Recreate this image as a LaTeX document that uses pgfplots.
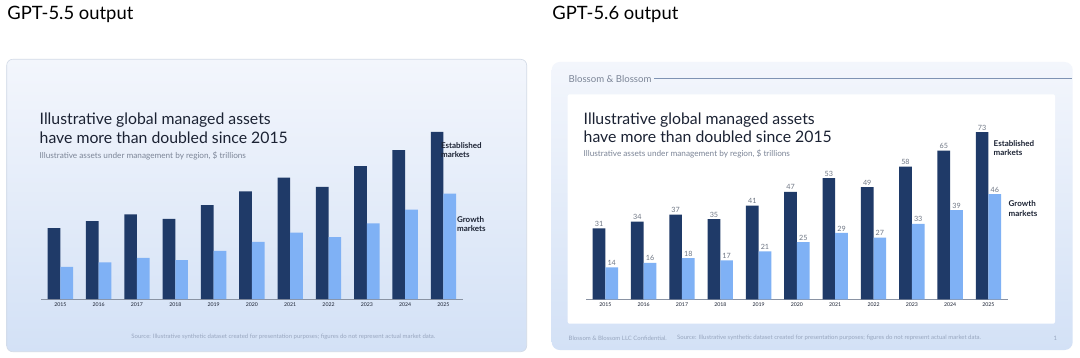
\documentclass[border=0pt]{standalone}
\usepackage{fontspec}
\setmainfont{Lato}
\usepackage{pgfplots}
\usepackage{pgfplotstable}
\pgfplotsset{compat=1.18}

\definecolor{navy}{HTML}{1F3A68}
\definecolor{sky}{HTML}{7FB1F5}
\definecolor{ink}{HTML}{1B2233}
\definecolor{subgrey}{HTML}{7C8597}
\definecolor{valgrey}{HTML}{6E7684}
\definecolor{srcgrey}{HTML}{98A6BF}
\definecolor{cardtop}{HTML}{F3F6FC}
\definecolor{cardbot}{HTML}{D3E1F6}
\definecolor{axisgrey}{HTML}{8A93A3}
\definecolor{hdrline}{HTML}{7F93B3}
\definecolor{cardedge}{HTML}{D2DAE6}

\newcommand\fs[2]{\fontsize{#1}{#2}\selectfont}

\pgfplotstableread{
x est gro
0 31 14
1 34 16
2 37 18
3 35 17
4 41 21
5 47 25
6 53 29
7 49 27
8 58 33
9 65 39
10 73 46
}\aumdata

\pgfplotsset{barchart/.style={
  scale only axis, width=210.7pt, height=91.6pt,
  xmin=-0.5, xmax=10.5, ymin=0, ymax=80,
  ybar=0pt, bar width=6.35pt,
  axis x line=bottom, axis y line=none,
  x axis line style={-, color=axisgrey, line width=0.45pt},
  xtick={0,...,10},
  xticklabels={2015,2016,2017,2018,2019,2020,2021,2022,2023,2024,2025},
  major tick length=0pt,
  xticklabel style={font=\fs{2.6pt}{3pt}, text=ink, inner sep=0pt, yshift=-1.6pt},
  ytick=\empty,
  anchor=south west, clip=false,
  /pgf/number format/assume math mode=true,
}}

\begin{document}
\begin{tikzpicture}
\useasboundingbox (0pt,0pt) rectangle (540pt,-179pt);
\fill[white] (0pt,0pt) rectangle (540pt,-179pt);

% headers
\node[anchor=west, inner sep=0pt, text=black, font=\fs{9.2pt}{10pt}] at (3.5pt,-7pt) {GPT-5.5 output};
\node[anchor=west, inner sep=0pt, text=black, font=\fs{9.2pt}{10pt}] at (276pt,-7pt) {GPT-5.6 output};

% left card
\shade[top color=cardtop, bottom color=cardbot, rounded corners=3pt, draw=cardedge, line width=0.3pt]
  (3.35pt,-29.65pt) rectangle (263.35pt,-175.85pt);

% right card
\shade[top color=cardtop, bottom color=cardbot, rounded corners=4pt]
  (275.85pt,-31pt) rectangle (536.35pt,-175pt);
\fill[white, rounded corners=1pt] (283.85pt,-47.15pt) rectangle (527.5pt,-161.85pt);
\node[anchor=west, inner sep=0pt, text=subgrey, font=\fs{4.8pt}{6pt}] at (284.15pt,-39.5pt) {Blossom \& Blossom};
\draw[hdrline, line width=0.5pt] (327pt,-39.5pt) -- (536pt,-39.5pt);

% titles left
\node[anchor=west, inner sep=0pt, text=ink, font=\fs{7.9pt}{9pt}] at (19.65pt,-60pt) {Illustrative global managed assets};
\node[anchor=west, inner sep=0pt, text=ink, font=\fs{7.9pt}{9pt}] at (19.65pt,-68.65pt) {have more than doubled since 2015};
\node[anchor=west, inner sep=0pt, text=subgrey, font=\fs{4.1pt}{5pt}] at (19.65pt,-78pt) {Illustrative assets under management by region, \$ trillions};

% titles right
\node[anchor=west, inner sep=0pt, text=ink, font=\fs{7.9pt}{9pt}] at (291.65pt,-60pt) {Illustrative global managed assets};
\node[anchor=west, inner sep=0pt, text=ink, font=\fs{7.9pt}{9pt}] at (291.65pt,-68.35pt) {have more than doubled since 2015};
\node[anchor=west, inner sep=0pt, text=subgrey, font=\fs{4.1pt}{5pt}] at (291.65pt,-77pt) {Illustrative assets under management by region, \$ trillions};

% left chart
\begin{axis}[barchart, at={(20.6pt,-149.5pt)}]
\addplot[fill=navy, draw=none] table[x=x,y=est]{\aumdata};
\addplot[fill=sky, draw=none] table[x=x,y=gro]{\aumdata};
\end{axis}

% right chart
\begin{axis}[barchart, at={(293.1pt,-149.7pt)},
  nodes near coords,
  every node near coord/.append style={font=\fs{3.6pt}{4pt}, text=valgrey, inner sep=0.7pt, anchor=south}]
\addplot[fill=navy, draw=none] table[x=x,y=est]{\aumdata};
\addplot[fill=sky, draw=none] table[x=x,y=gro]{\aumdata};
\end{axis}

% series labels left
\node[anchor=west, inner sep=0pt, text=ink, align=left, font=\fs{4pt}{4.7pt}\bfseries] at (220.35pt,-75pt) {Established\\markets};
\node[anchor=west, inner sep=0pt, text=ink, align=left, font=\fs{4pt}{4.7pt}\bfseries] at (228.35pt,-112pt) {Growth\\markets};
% series labels right
\node[anchor=west, inner sep=0pt, text=ink, align=left, font=\fs{4pt}{4.7pt}\bfseries] at (496.65pt,-74pt) {Established\\markets};
\node[anchor=west, inner sep=0pt, text=ink, align=left, font=\fs{4pt}{4.7pt}\bfseries] at (504.15pt,-104.35pt) {Growth\\markets};

% footers
\node[anchor=west, inner sep=0pt, text=srcgrey, font=\fs{3pt}{3.5pt}] at (65.5pt,-168.5pt) {Source: Illustrative synthetic dataset created for presentation purposes; figures do not represent actual market data.};
\node[anchor=west, inner sep=0pt, text=srcgrey, font=\fs{3pt}{3.5pt}] at (284.15pt,-169.15pt) {Blossom \& Blossom LLC Confidential.};
\node[anchor=west, inner sep=0pt, text=srcgrey, font=\fs{3pt}{3.5pt}] at (338.35pt,-169.15pt) {Source: Illustrative synthetic dataset created for presentation purposes; figures do not represent actual market data.};
\node[anchor=west, inner sep=0pt, text=srcgrey, font=\fs{3pt}{3.5pt}] at (526.65pt,-169.15pt) {1};
\end{tikzpicture}
\end{document}
